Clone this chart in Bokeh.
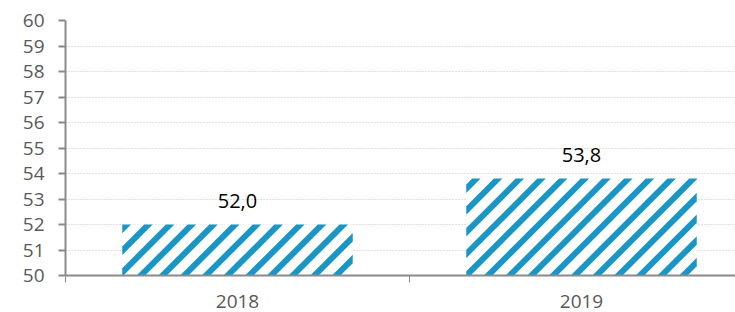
from bokeh.plotting import figure
from bokeh.models import Range1d, FixedTicker, ColumnDataSource, LabelSet
from bokeh.core.properties import value
from bokeh.embed import file_html
from bokeh.resources import INLINE

# ---- data ----
years = ["2018", "2019"]
values = [52.0, 53.8]
labels = ["52,0", "53,8"]
y_ticks = list(range(50, 61))
y_min, y_max = 50, 60

# ---- layout / style ----
W, H = 735, 312
BL, BR, BT, BB = 65, 0, 20, 37
CAT_PX = 344            # pixel width of one category slot
BAR_W = 0.67
BLUE = "#1a96c6"
STRIPE_PERIOD = 21.7    # horizontal px between stripes
STRIPE_W = 8.5          # horizontal px width of a stripe
STRIPE_PHASE = 6.0

inner_w = W - BL - BR
inner_h = H - BT - BB
x_end = inner_w / CAT_PX
px_x = CAT_PX                       # px per x unit
px_y = inner_h / (y_max - y_min)    # px per y unit

xpos = [i + 0.5 for i in range(len(years))]
src = ColumnDataSource(dict(x=xpos, top=values, lab=labels))


def clip(poly, f):
    out = []
    n = len(poly)
    for i in range(n):
        a, b = poly[i], poly[(i + 1) % n]
        fa, fb = f(a), f(b)
        if fa >= 0:
            out.append(a)
        if (fa >= 0) != (fb >= 0):
            t = fa / (fa - fb)
            out.append((a[0] + t * (b[0] - a[0]), a[1] + t * (b[1] - a[1])))
    return out


# diagonal hatch stripes (45 degrees on screen) inside each bar
sx, sy = [], []
for xc, top in zip(xpos, values):
    x0 = (xc - BAR_W / 2) * px_x
    x1 = (xc + BAR_W / 2) * px_x
    y0 = 0.0
    y1 = (top - y_min) * px_y
    rect = [(x0, y0), (x1, y0), (x1, y1), (x0, y1)]
    k0 = int((x0 - y1 - STRIPE_PHASE) // STRIPE_PERIOD) - 1
    k1 = int((x1 - y0 - STRIPE_PHASE) // STRIPE_PERIOD) + 1
    for k in range(k0, k1 + 1):
        c = STRIPE_PHASE + k * STRIPE_PERIOD
        poly = clip(rect, lambda p, c=c: (p[0] - p[1]) - c)
        poly = clip(poly, lambda p, c=c: c + STRIPE_W - (p[0] - p[1]))
        if len(poly) >= 3:
            sx.append([p[0] / px_x for p in poly])
            sy.append([y_min + p[1] / px_y for p in poly])

FONT = "Open Sans"
p = figure(width=W, height=H, output_backend="svg", toolbar_location=None,
           x_range=Range1d(0, x_end), y_range=Range1d(y_min, y_max),
           min_border_left=BL, min_border_right=BR, min_border_top=BT, min_border_bottom=BB)
p.outline_line_color = None
p.background_fill_color = "white"

p.vbar(x="x", top="top", bottom=y_min, width=BAR_W, source=src,
       fill_color="white", line_color=None)
p.patches(sx, sy, fill_color=BLUE, line_color=None)

p.add_layout(LabelSet(x="x", y="top", text="lab", source=src, y_offset=17,
                      text_align="center", text_baseline="alphabetic",
                      text_font=value(FONT), text_font_size="20px", text_color="black"))

# y axis
ya = p.yaxis[0]
ya.ticker = FixedTicker(ticks=y_ticks)
ya.axis_line_color = "#8a8a8a"
ya.axis_line_width = 2
ya.major_tick_line_color = "#8a8a8a"
ya.major_tick_line_width = 2
ya.major_tick_in = 0
ya.major_tick_out = 7
ya.minor_tick_line_color = None
ya.major_label_text_font = FONT
ya.major_label_text_font_size = "19px"
ya.major_label_text_color = "#595959"
ya.major_label_standoff = 14

# x axis
xa = p.xaxis[0]
xa.ticker = FixedTicker(ticks=xpos, minor_ticks=[0, 1, 2])
xa.major_label_overrides = {x: y for x, y in zip(xpos, years)}
xa.axis_line_color = "#8a8a8a"
xa.axis_line_width = 2
xa.major_tick_line_color = None
xa.minor_tick_line_color = "#8a8a8a"
xa.minor_tick_line_width = 1
xa.minor_tick_in = 0
xa.minor_tick_out = 7
xa.major_label_text_font = FONT
xa.major_label_text_font_size = "19px"
xa.major_label_text_color = "#595959"
xa.major_label_standoff = 12

p.xgrid.grid_line_color = None
p.ygrid.grid_line_color = "#c0c0c0"
p.ygrid.grid_line_dash = "1 2"
p.ygrid.grid_line_width = 1

open("out.html", "w").write(file_html(p, INLINE))
